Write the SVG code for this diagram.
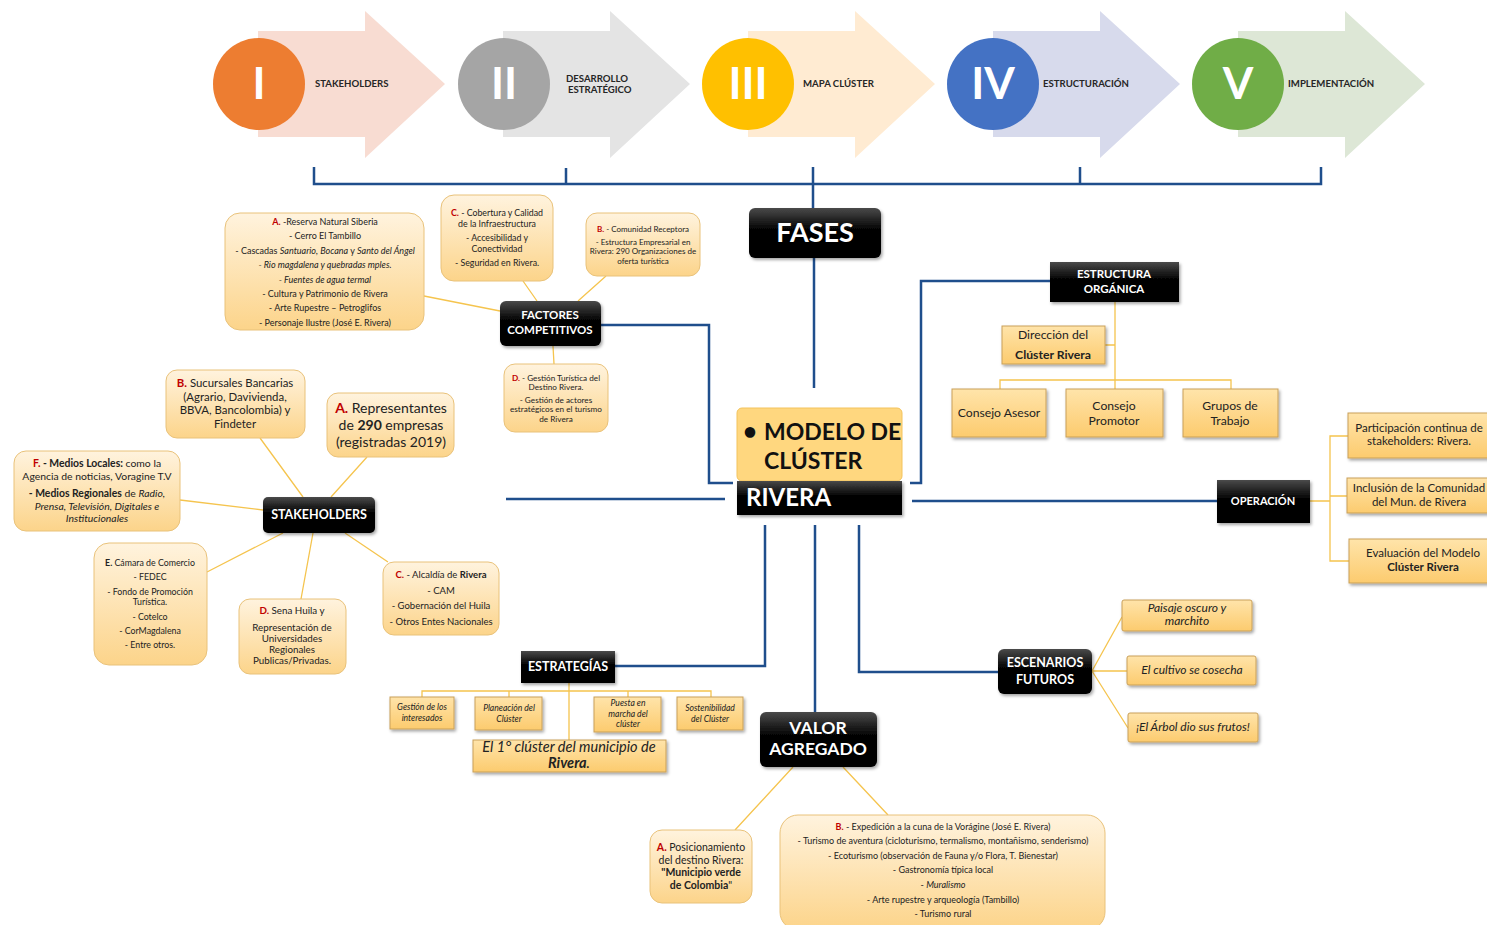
<svg xmlns="http://www.w3.org/2000/svg" width="1487" height="925" viewBox="0 0 1487 925">
<defs>
  <linearGradient id="boxGrad" x1="0" y1="0" x2="0" y2="1">
    <stop offset="0" stop-color="#FFF3DE"/>
    <stop offset="1" stop-color="#FCD48A"/>
  </linearGradient>
  <linearGradient id="rectGrad" x1="0" y1="0" x2="0" y2="1">
    <stop offset="0" stop-color="#FFE4AA"/>
    <stop offset="1" stop-color="#FCCB6E"/>
  </linearGradient>
  <linearGradient id="darkGrad" x1="0" y1="0" x2="0" y2="1">
    <stop offset="0" stop-color="#4a4a4a"/>
    <stop offset="0.45" stop-color="#000"/>
    <stop offset="1" stop-color="#000"/>
  </linearGradient>
  <filter id="shadow" x="-10%" y="-10%" width="130%" height="140%">
    <feDropShadow dx="1.5" dy="2" stdDeviation="1.5" flood-color="#000" flood-opacity="0.35"/>
  </filter>
  <style>
    text { font-family: Lato, "Liberation Sans", sans-serif; fill: #222; }
    .ph { font-size: 9.6px; font-weight: bold; fill: #262626; }
    .num { font-size: 44px; font-weight: bold; fill: #fff; text-anchor: middle; }
    .dark { fill: url(#darkGrad); filter: url(#shadow); }
    .dt { fill: #fff; font-weight: bold; text-anchor: middle; }
    .wt { fill: #fff; font-weight: bold; }
    .mt { fill: #111; font-weight: bold; }
    .rbox { fill: url(#boxGrad); stroke: #E9C27A; stroke-width: 1; }
    .sbox { fill: url(#rectGrad); stroke: #C9A05A; stroke-width: 1; filter: url(#shadow); }
    .c { text-anchor: middle; }
    .r { fill: #C00000; font-weight: bold; }
    .b { font-weight: bold; }
    .i { font-style: italic; }
    .blue { fill: none; stroke: #1F4E8C; stroke-width: 2.5; }
    .yel { fill: none; stroke: #F5C44E; stroke-width: 1.3; }
  </style>
</defs>
<rect width="1487" height="925" fill="#fff"/>

<!-- Phase arrows -->
<g id="phase-1">
  <polygon points="258,31 365,31 365,11 445,84 365,158 365,137 258,137" fill="#F8DCD2"/>
  <circle cx="259" cy="84" r="46" fill="#ED7D31"/>
  <text class="num" x="259" y="99">I</text>
  <text class="ph" x="315" y="87">STAKEHOLDERS</text>
</g>
<g id="phase-2">
  <polygon points="503,31 610,31 610,11 690,84 610,158 610,137 503,137" fill="#E4E4E4"/>
  <circle cx="504" cy="84" r="46" fill="#A5A5A5"/>
  <text class="num" x="504" y="99">II</text>
  <text class="ph" x="566" y="82">DESARROLLO</text>
  <text class="ph" x="568" y="93">ESTRATÉGICO</text>
</g>
<g id="phase-3">
  <polygon points="748,31 855,31 855,11 935,84 855,158 855,137 748,137" fill="#FFEBD2"/>
  <circle cx="748" cy="84" r="46" fill="#FFC000"/>
  <text class="num" x="748" y="99">III</text>
  <text class="ph" x="803" y="87">MAPA CLÚSTER</text>
</g>
<g id="phase-4">
  <polygon points="993,31 1100,31 1100,11 1180,84 1100,158 1100,137 993,137" fill="#D7DAEC"/>
  <circle cx="993" cy="84" r="46" fill="#4472C4"/>
  <text class="num" x="993" y="99">IV</text>
  <text class="ph" x="1043" y="87">ESTRUCTURACIÓN</text>
</g>
<g id="phase-5">
  <polygon points="1238,31 1345,31 1345,11 1425,84 1345,158 1345,137 1238,137" fill="#DDE7D6"/>
  <circle cx="1238" cy="84" r="46" fill="#70AD47"/>
  <text class="num" x="1238" y="99">V</text>
  <text class="ph" x="1288" y="87">IMPLEMENTACIÓN</text>
</g>

<!-- Connectors -->
<g id="connectors">
  <!-- phase bracket -->
  <path class="blue" d="M314,167 V184 H1321 V167 M566,168 V184 M1080,167 V184 M813,167 V208"/>
  <path class="blue" d="M814,258 V388"/>
  <!-- from the central model -->
  <path class="blue" d="M601,325 H709 V483 H733"/>
  <path class="blue" d="M506,499 H725"/>
  <path class="blue" d="M910,483 H921 V281 H1050"/>
  <path class="blue" d="M912,501 H1217"/>
  <path class="blue" d="M765,525 V666 H615"/>
  <path class="blue" d="M815,525 V712"/>
  <path class="blue" d="M859,525 V672 H998"/>
  <!-- factores competitivos -->
  <path class="yel" d="M424,296 L500,311 M523,281 L537,301 M606,276 L578,301 M553,346 L554,364"/>
  <!-- stakeholders -->
  <path class="yel" d="M260,438 L303,497 M367,457 L331,497 M180,500 L263,510 M207,572 L283,533 M301,599 L313,533 M388,562 L345,533"/>
  <!-- estrategias -->
  <path class="yel" d="M569,683 V740 M422,697 V691 H711 V697 M509,691 V697 M628,691 V697"/>
  <!-- valor agregado -->
  <path class="yel" d="M793,767 L735,830 M843,767 L888,815"/>
  <!-- estructura organica -->
  <path class="yel" d="M1115,302 V389 M1105,345 H1115 M1000,389 V380 H1231 V389"/>
  <!-- operacion -->
  <path class="yel" d="M1310,501 H1330 M1348,436 H1330 V561 H1349 M1330,496 H1347"/>
  <!-- escenarios -->
  <path class="yel" d="M1092,671 L1122,617 M1092,671 H1127 M1092,671 L1128,728"/>
</g>

<!-- Fases -->
<g id="fases">
  <rect class="dark" x="749" y="208" width="132" height="50" rx="6"/>
  <text class="dt" x="815" y="242" font-size="27">FASES</text>
</g>

<!-- Central model -->
<g id="modelo">
  <rect x="737" y="408" width="165" height="73" rx="5" fill="#FFD77F" stroke="#F3C35C"/>
  <text class="mt" x="743" y="440" font-size="24">•</text>
  <text class="mt" x="764" y="440" font-size="23">MODELO DE</text>
  <text class="mt" x="764" y="469" font-size="23">CLÚSTER</text>
  <rect class="dark" x="737" y="481" width="165" height="34"/>
  <text class="wt" x="746" y="506" font-size="24">RIVERA</text>
</g>

<!-- Factores competitivos -->
<g id="factores">
  <rect class="dark" x="500" y="301" width="101" height="45" rx="6"/>
  <text class="dt" x="550" y="319" font-size="11.5">FACTORES</text>
  <text class="dt" x="550" y="334" font-size="11.5">COMPETITIVOS</text>
</g>
<g id="factor-a" font-size="9">
  <rect class="rbox" x="225" y="213" width="199" height="117" rx="15"/>
  <text class="c" x="325" y="225"><tspan class="r">A.</tspan> -Reserva Natural Siberia</text>
  <text class="c" x="325" y="239">- Cerro El Tambillo</text>
  <text class="c" x="325" y="254">- Cascadas <tspan class="i">Santuario, Bocana</tspan> y <tspan class="i">Santo del Ángel</tspan></text>
  <text class="c i" x="325" y="268">- Rio magdalena y quebradas mples.</text>
  <text class="c i" x="325" y="283">- Fuentes de agua termal</text>
  <text class="c" x="325" y="297">- Cultura y Patrimonio de Rivera</text>
  <text class="c" x="325" y="311">- Arte  Rupestre – Petroglifos</text>
  <text class="c" x="325" y="326">- Personaje Ilustre (José E. Rivera)</text>
</g>
<g id="factor-c" font-size="8.8">
  <rect class="rbox" x="441" y="195" width="112" height="86" rx="13"/>
  <text class="c" x="497" y="216"><tspan class="r">C.</tspan> - Cobertura y Calidad</text>
  <text class="c" x="497" y="227">de la Infraestructura</text>
  <text class="c" x="497" y="241">- Accesibilidad y</text>
  <text class="c" x="497" y="252">Conectividad</text>
  <text class="c" x="497" y="266">- Seguridad en Rivera.</text>
</g>
<g id="factor-b" font-size="8">
  <rect class="rbox" x="586" y="213" width="114" height="63" rx="11"/>
  <text class="c" x="643" y="232"><tspan class="r">B.</tspan> - Comunidad Receptora</text>
  <text class="c" x="643" y="245">- Estructura Empresarial en</text>
  <text class="c" x="643" y="254">Rivera: 290 Organizaciones de</text>
  <text class="c" x="643" y="264">oferta turística</text>
</g>
<g id="factor-d" font-size="8.2">
  <rect class="rbox" x="504" y="364" width="104" height="68" rx="11"/>
  <text class="c" x="556" y="381"><tspan class="r">D.</tspan> - Gestión Turística del</text>
  <text class="c" x="556" y="390">Destino Rivera.</text>
  <text class="c" x="556" y="403">- Gestión de actores</text>
  <text class="c" x="556" y="412">estratégicos en el turismo</text>
  <text class="c" x="556" y="422">de Rivera</text>
</g>

<!-- Stakeholders -->
<g id="stakeholders">
  <rect class="dark" x="263" y="497" width="112" height="36" rx="5"/>
  <text class="dt" x="319" y="519" font-size="12.5">STAKEHOLDERS</text>
</g>
<g id="stake-b" font-size="11.4">
  <rect class="rbox" x="166" y="370" width="139" height="68" rx="11"/>
  <text class="c" x="235" y="387"><tspan class="r">B.</tspan> Sucursales Bancarias</text>
  <text class="c" x="235" y="401">(Agrario, Davivienda,</text>
  <text class="c" x="235" y="414">BBVA, Bancolombia) y</text>
  <text class="c" x="235" y="428">Findeter</text>
</g>
<g id="stake-a" font-size="14">
  <rect class="rbox" x="327" y="393" width="127" height="64" rx="11"/>
  <text class="c" x="391" y="413"><tspan class="r">A.</tspan> Representantes</text>
  <text class="c" x="391" y="430">de <tspan class="b">290</tspan> empresas</text>
  <text class="c" x="391" y="447">(registradas 2019)</text>
</g>
<g id="stake-f" font-size="10.4">
  <rect class="rbox" x="14" y="451" width="166" height="80" rx="12"/>
  <text class="c" x="97" y="467"><tspan class="r">F.</tspan><tspan class="b"> - Medios Locales:</tspan> como la</text>
  <text class="c" x="97" y="480">Agencia de noticias, Voragine T.V</text>
  <text class="c" x="97" y="497"><tspan class="b">- Medios Regionales</tspan> de <tspan class="i">Radio,</tspan></text>
  <text class="c i" x="97" y="510">Prensa, Televisión, Digitales e</text>
  <text class="c i" x="97" y="522">Institucionales</text>
</g>
<g id="stake-e" font-size="8.8">
  <rect class="rbox" x="94" y="543" width="113" height="122" rx="15"/>
  <text class="c" x="150" y="566"><tspan class="b">E.</tspan> Cámara de Comercio</text>
  <text class="c" x="150" y="580">- FEDEC</text>
  <text class="c" x="150" y="595">- Fondo de Promoción</text>
  <text class="c" x="150" y="605">Turística.</text>
  <text class="c" x="150" y="620">- Cotelco</text>
  <text class="c" x="150" y="634">- CorMagdalena</text>
  <text class="c" x="150" y="648">- Entre otros.</text>
</g>
<g id="stake-d" font-size="9.8">
  <rect class="rbox" x="239" y="599" width="107" height="75" rx="11"/>
  <text class="c" x="292" y="614"><tspan class="r">D.</tspan> Sena Huila y</text>
  <text class="c" x="292" y="631">Representación de</text>
  <text class="c" x="292" y="642">Universidades</text>
  <text class="c" x="292" y="653">Regionales</text>
  <text class="c" x="292" y="664">Publicas/Privadas.</text>
</g>
<g id="stake-c" font-size="9.5">
  <rect class="rbox" x="383" y="562" width="116" height="73" rx="11"/>
  <text class="c" x="441" y="578"><tspan class="r">C.</tspan> - Alcaldía de <tspan class="b">Rivera</tspan></text>
  <text class="c" x="441" y="594">- CAM</text>
  <text class="c" x="441" y="609">- Gobernación del Huila</text>
  <text class="c" x="441" y="625">- Otros Entes Nacionales</text>
</g>

<!-- Estrategias -->
<g id="estrategias">
  <rect class="dark" x="521" y="651" width="94" height="32"/>
  <text class="dt" x="568" y="671" font-size="12.5">ESTRATEGÍAS</text>
</g>
<g id="estr-gestion" font-size="8.6" font-style="italic">
  <rect class="sbox" x="390" y="697" width="64" height="32"/>
  <text class="c" x="422" y="710">Gestión de los</text>
  <text class="c" x="422" y="721">interesados</text>
</g>
<g id="estr-planeacion" font-size="8.6" font-style="italic">
  <rect class="sbox" x="475" y="697" width="67" height="33"/>
  <text class="c" x="509" y="711">Planeación del</text>
  <text class="c" x="509" y="722">Clúster</text>
</g>
<g id="estr-puesta" font-size="8.6" font-style="italic">
  <rect class="sbox" x="594" y="697" width="67" height="35"/>
  <text class="c" x="628" y="706">Puesta en</text>
  <text class="c" x="628" y="717">marcha del</text>
  <text class="c" x="628" y="727">clúster</text>
</g>
<g id="estr-sostenibilidad" font-size="8.6" font-style="italic">
  <rect class="sbox" x="677" y="697" width="66" height="33"/>
  <text class="c" x="710" y="711">Sostenibilidad</text>
  <text class="c" x="710" y="722">del Clúster</text>
</g>
<g id="estr-primero" font-size="14.5" font-style="italic">
  <rect class="sbox" x="473" y="740" width="193" height="32"/>
  <text class="c" x="569" y="752">El 1° clúster del municipio de</text>
  <text class="c" x="569" y="768"><tspan class="b">Rivera</tspan>.</text>
</g>

<!-- Valor agregado -->
<g id="valor">
  <rect class="dark" x="760" y="712" width="117" height="55" rx="6"/>
  <text class="dt" x="818" y="734" font-size="17.5">VALOR</text>
  <text class="dt" x="818" y="755" font-size="17.5">AGREGADO</text>
</g>
<g id="valor-a" font-size="10.5">
  <rect class="rbox" x="650" y="830" width="102" height="73" rx="12"/>
  <text class="c" x="701" y="851"><tspan class="r">A.</tspan> Posicionamiento</text>
  <text class="c" x="701" y="864">del destino Rivera:</text>
  <text class="c b" x="701" y="876">"Municipio verde</text>
  <text class="c" x="701" y="889"><tspan class="b">de Colombia</tspan>"</text>
</g>
<g id="valor-b" font-size="9">
  <rect class="rbox" x="780" y="815" width="325" height="115" rx="18"/>
  <text class="c" x="943" y="830"><tspan class="r">B.</tspan> - Expedición a la cuna de la Vorágine (José E. Rivera)</text>
  <text class="c" x="943" y="844">- Turismo de aventura (cicloturismo, termalismo, montañismo, senderismo)</text>
  <text class="c" x="943" y="859">- Ecoturismo (observación de Fauna y/o Flora, T. Bienestar)</text>
  <text class="c" x="943" y="873">- Gastronomía típica local</text>
  <text class="c" x="943" y="888">- <tspan class="i">Muralismo</tspan></text>
  <text class="c" x="943" y="903">- Arte  rupestre y arqueología (Tambillo)</text>
  <text class="c" x="943" y="917">- Turismo rural</text>
</g>

<!-- Estructura organica -->
<g id="estructura">
  <rect class="dark" x="1050" y="262" width="129" height="40"/>
  <text class="dt" x="1114" y="278" font-size="11.5">ESTRUCTURA</text>
  <text class="dt" x="1114" y="293" font-size="11.5">ORGÁNICA</text>
</g>
<g id="est-direccion" font-size="12.2">
  <rect class="sbox" x="1002" y="326" width="103" height="38"/>
  <text class="c" x="1053" y="339">Dirección del</text>
  <text class="c b" x="1053" y="359">Clúster Rivera</text>
</g>
<g id="est-asesor" font-size="12.2">
  <rect class="sbox" x="952" y="389" width="94" height="48"/>
  <text class="c" x="999" y="417">Consejo Asesor</text>
</g>
<g id="est-promotor" font-size="12.2">
  <rect class="sbox" x="1066" y="389" width="97" height="48"/>
  <text class="c" x="1114" y="410">Consejo</text>
  <text class="c" x="1114" y="425">Promotor</text>
</g>
<g id="est-grupos" font-size="12.2">
  <rect class="sbox" x="1183" y="389" width="95" height="48"/>
  <text class="c" x="1230" y="410">Grupos de</text>
  <text class="c" x="1230" y="425">Trabajo</text>
</g>

<!-- Operacion -->
<g id="operacion">
  <rect class="dark" x="1217" y="480" width="93" height="43"/>
  <text class="dt" x="1263" y="505" font-size="11">OPERACIÓN</text>
</g>
<g id="op-participacion" font-size="11.5">
  <rect class="sbox" x="1348" y="413" width="142" height="45"/>
  <text class="c" x="1419" y="432">Participación continua de</text>
  <text class="c" x="1419" y="445">stakeholders: Rivera.</text>
</g>
<g id="op-inclusion" font-size="11.5">
  <rect class="sbox" x="1347" y="478" width="143" height="35"/>
  <text class="c" x="1419" y="492">Inclusión de la Comunidad</text>
  <text class="c" x="1419" y="506">del Mun. de Rivera</text>
</g>
<g id="op-evaluacion" font-size="11.5">
  <rect class="sbox" x="1349" y="539" width="141" height="44"/>
  <text class="c" x="1423" y="557">Evaluación del Modelo</text>
  <text class="c b" x="1423" y="571">Clúster Rivera</text>
</g>

<!-- Escenarios futuros -->
<g id="escenarios">
  <rect class="dark" x="998" y="649" width="94" height="45" rx="6"/>
  <text class="dt" x="1045" y="667" font-size="12.5">ESCENARIOS</text>
  <text class="dt" x="1045" y="684" font-size="12.5">FUTUROS</text>
</g>
<g id="esc-paisaje" font-size="12" font-style="italic">
  <rect class="sbox" x="1122" y="600" width="130" height="31" rx="2"/>
  <text class="c" x="1187" y="612">Paisaje oscuro y</text>
  <text class="c" x="1187" y="625">marchito</text>
</g>
<g id="esc-cultivo" font-size="12" font-style="italic">
  <rect class="sbox" x="1127" y="656" width="129" height="29" rx="2"/>
  <text class="c" x="1192" y="674">El cultivo se cosecha</text>
</g>
<g id="esc-arbol" font-size="12" font-style="italic">
  <rect class="sbox" x="1128" y="713" width="130" height="29" rx="2"/>
  <text class="c" x="1193" y="731">¡El Árbol dio sus frutos!</text>
</g>
</svg>
